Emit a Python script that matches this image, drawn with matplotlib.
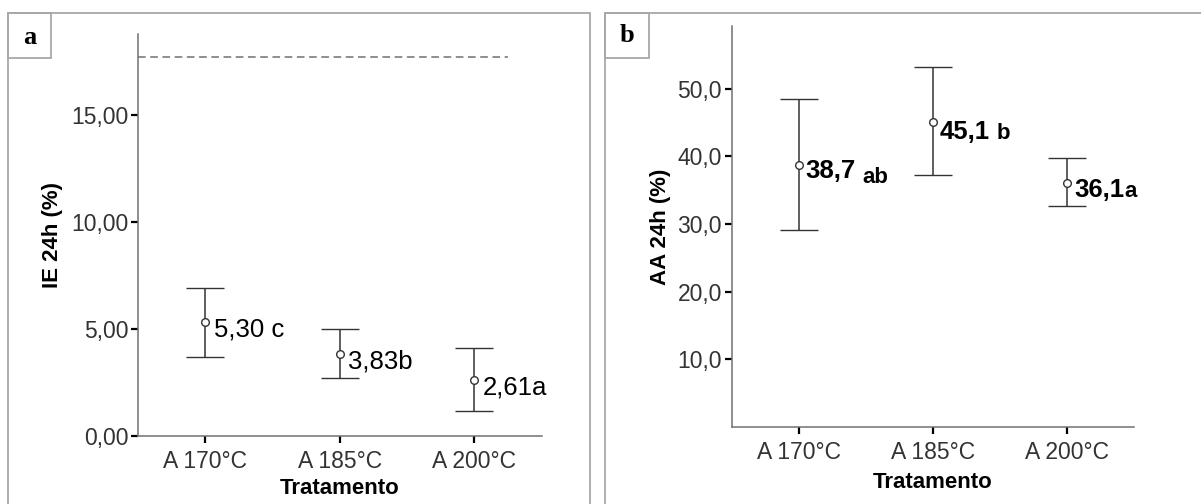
import matplotlib
matplotlib.use("Agg")
import matplotlib.pyplot as plt
from matplotlib.patches import Rectangle

plt.rcParams['font.family'] = ['Liberation Sans', 'DejaVu Sans']

# data
tratamentos = ["A 170°C", "A 185°C", "A 200°C"]

ie_mean = [5.30, 3.83, 2.61]
ie_hi = [6.92, 5.00, 4.08]
ie_lo = [3.69, 2.71, 1.17]
ie_num = ["5,30 c", "3,83b", "2,61a"]
ie_ref = 17.7

aa_mean = [38.7, 45.1, 36.1]
aa_hi = [48.5, 53.3, 39.7]
aa_lo = [29.1, 37.3, 32.7]
aa_num = ["38,7", "45,1", "36,1"]
aa_let = ["ab", "b", "a"]

W, H = 1201, 504
fig = plt.figure(figsize=(W / 100, H / 100), dpi=100)

# panel frames (gray boxes) and letter boxes
def px_rect(x0, y0, x1, y1, **kw):
    r = Rectangle((x0 / W, 1 - y1 / H), (x1 - x0) / W, (y1 - y0) / H,
                  transform=fig.transFigure, fill=False, **kw)
    fig.add_artist(r)

px_rect(8, 13, 590, 530, edgecolor='#a8a8a8', lw=1.3)
px_rect(605, 13, 1230, 530, edgecolor='#a8a8a8', lw=1.3)
px_rect(8, 13, 51, 58, edgecolor='#a8a8a8', lw=1.3)
px_rect(605, 13, 649, 58, edgecolor='#a8a8a8', lw=1.3)
fig.text(30 / W, 1 - 37 / H, "a", family='Liberation Serif', weight='bold',
         fontsize=19, ha='center', va='center')
fig.text(627 / W, 1 - 36 / H, "b", family='Liberation Serif', weight='bold',
         fontsize=19, ha='center', va='center')

ax_a = fig.add_axes([138 / W, 1 - 435.7 / H, (541.7 - 138) / W, (435.7 - 34) / H])
ax_b = fig.add_axes([731.6 / W, 1 - 426.7 / H, (1134 - 731.6) / W, (426.7 - 26) / H])

x = list(range(len(tratamentos)))
lc = '#333333'


def style(ax):
    for s in ['top', 'right']:
        ax.spines[s].set_visible(False)
    for s in ['left', 'bottom']:
        ax.spines[s].set_color('#707070')
        ax.spines[s].set_linewidth(1.1)
    ax.tick_params(axis='both', direction='out', length=5, width=1.6,
                   color='black', labelsize=16.5, labelcolor='#333333')
    ax.tick_params(axis='y', pad=2)
    ax.tick_params(axis='x', pad=5)
    ax.set_xlim(-0.5, 2.5)
    ax.set_xticks(x)
    ax.set_xticklabels(tratamentos)
    ax.set_xlabel("Tratamento", fontsize=16, fontweight='bold')


# panel a
style(ax_a)
ax_a.set_ylim(0, 18.77)
ax_a.set_yticks([0, 5, 10, 15])
ax_a.set_yticklabels([f"{v:.2f}".replace('.', ',') for v in [0, 5, 10, 15]])
ax_a.plot([-0.5, 2.25], [ie_ref, ie_ref], ls=(0, (5, 3)), color='#707070', lw=1.1)
ax_a.errorbar(x, ie_mean,
              yerr=[[m - l for m, l in zip(ie_mean, ie_lo)],
                    [h - m for m, h in zip(ie_mean, ie_hi)]],
              fmt='o', ms=5.5, mfc='white', mec=lc, mew=1.0, ecolor=lc,
              elinewidth=1.1, capsize=13.7, capthick=1.1)
for xi, m, t in zip(x, ie_mean, ie_num):
    ax_a.annotate(t, (xi, m), xytext=(6, -10.5), textcoords='offset points',
                  fontsize=18.5, ha='left', va='baseline', color='black')
ax_a.set_ylabel("IE 24h (%)", fontsize=16, fontweight='bold')
ax_a.yaxis.set_label_coords(-0.186, 0.5)
ax_a.xaxis.set_label_coords(0.5, -0.105)

# panel b
style(ax_b)
ax_b.set_ylim(0, 59.3)
ax_b.set_yticks([10, 20, 30, 40, 50])
ax_b.set_yticklabels([f"{v:.1f}".replace('.', ',') for v in [10, 20, 30, 40, 50]])
ax_b.errorbar(x, aa_mean,
              yerr=[[m - l for m, l in zip(aa_mean, aa_lo)],
                    [h - m for m, h in zip(aa_mean, aa_hi)]],
              fmt='o', ms=5.5, mfc='white', mec=lc, mew=1.0, ecolor=lc,
              elinewidth=1.1, capsize=13.7, capthick=1.1)
num_dy = [-9.5, -12, -10.5]
let_dx = [46, 46, 41]
let_dy = [-13, -12, -10.5]
let_fs = [16, 16, 16]
for i, (xi, m) in enumerate(zip(x, aa_mean)):
    ax_b.annotate(aa_num[i], (xi, m), xytext=(5, num_dy[i]), textcoords='offset points',
                  fontsize=18.5, fontweight='bold', ha='left', va='baseline')
    ax_b.annotate(aa_let[i], (xi, m), xytext=(let_dx[i], let_dy[i]), textcoords='offset points',
                  fontsize=let_fs[i], fontweight='bold', ha='left', va='baseline')
ax_b.set_ylabel("AA 24h (%)", fontsize=16, fontweight='bold')
ax_b.yaxis.set_label_coords(-0.151, 0.5)
ax_b.xaxis.set_label_coords(0.5, -0.113)

fig.savefig("out.png", dpi=100)
